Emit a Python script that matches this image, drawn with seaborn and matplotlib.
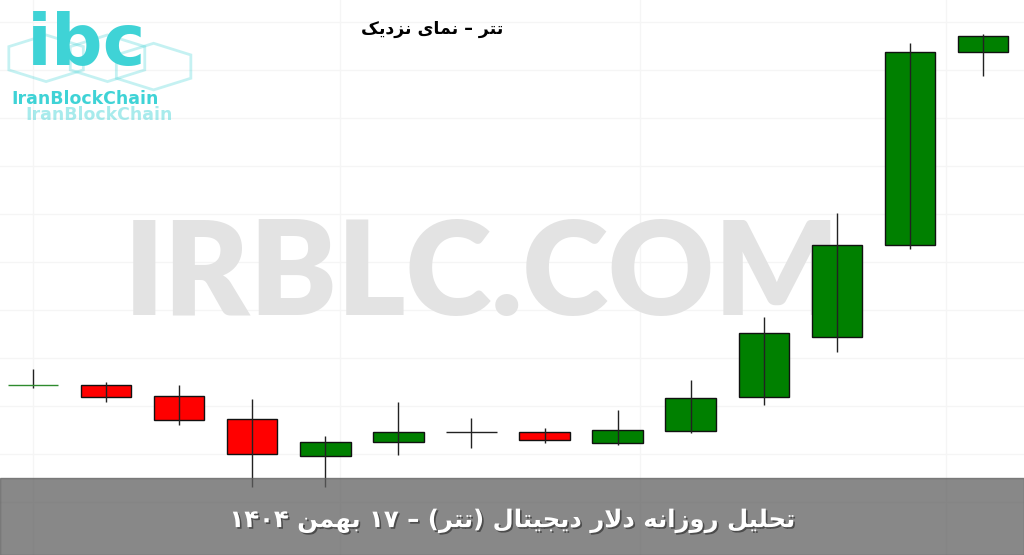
import numpy as np
import matplotlib
matplotlib.use('Agg')
from matplotlib import pyplot as plt
from matplotlib.patches import RegularPolygon, Rectangle
import matplotlib.patheffects as pe
import seaborn as sns
import pandas as pd

# daily candles (toman)
days = list(range(14))
opens  = [153450, 153450, 153120, 152430, 151320, 151740, 152040, 152040, 151710, 152070, 153090, 154890, 157650, 163440]
highs  = [153930, 153540, 153450, 153030, 151920, 152940, 152460, 152160, 152700, 153600, 155490, 158610, 163710, 163980]
lows   = [153360, 152940, 152250, 150390, 150390, 151350, 151560, 151710, 151650, 152010, 152850, 154440, 157530, 162720]
closes = [153450, 153090, 152400, 151380, 151740, 152040, 152040, 151800, 152100, 153060, 155010, 157650, 163440, 163920]

title_txt = 'تتر – نمای نزدیک'
banner_txt = 'تحلیل روزانه دلار دیجیتال (تتر) – ۱۷ بهمن ۱۴۰۴'

df = pd.DataFrame({'day': days, 'open': opens, 'high': highs, 'low': lows, 'close': closes})

##########################################################################################################################
# minimal persian shaping (matplotlib has no bidi / joining)
##########################################################################################################################
FORMS = {
    'ا': ('\uFE8D', '\uFE8E'),
    'ب': ('\uFE8F', '\uFE90', '\uFE91', '\uFE92'),
    'ت': ('\uFE95', '\uFE96', '\uFE97', '\uFE98'),
    'ج': ('\uFE9D', '\uFE9E', '\uFE9F', '\uFEA0'),
    'ح': ('\uFEA1', '\uFEA2', '\uFEA3', '\uFEA4'),
    'د': ('\uFEA9', '\uFEAA'),
    'ر': ('\uFEAD', '\uFEAE'),
    'ز': ('\uFEAF', '\uFEB0'),
    'ک': ('\uFB8E', '\uFB8F', '\uFB90', '\uFB91'),
    'ل': ('\uFEDD', '\uFEDE', '\uFEDF', '\uFEE0'),
    'م': ('\uFEE1', '\uFEE2', '\uFEE3', '\uFEE4'),
    'ن': ('\uFEE5', '\uFEE6', '\uFEE7', '\uFEE8'),
    'ه': ('\uFEE9', '\uFEEA', '\uFEEB', '\uFEEC'),
    'و': ('\uFEED', '\uFEEE'),
    'ی': ('\uFBFC', '\uFBFD', '\uFBFE', '\uFBFF'),
}

def shape_word(word):
    out = []
    i = 0
    n = len(word)
    while i < n:
        ch = word[i]
        if ch not in FORMS:
            out.append(ch)
            i += 1
            continue
        prev = word[i-1] if i > 0 else None
        joins_prev = prev in FORMS and len(FORMS[prev]) == 4
        if ch == 'ل' and i + 1 < n and word[i+1] == 'ا':
            out.append('\uFEFC' if joins_prev else '\uFEFB')
            i += 2
            continue
        nxt = word[i+1] if i + 1 < n else None
        joins_next = len(FORMS[ch]) == 4 and nxt in FORMS
        f = FORMS[ch]
        if joins_prev and joins_next:
            out.append(f[3])
        elif joins_prev:
            out.append(f[1])
        elif joins_next:
            out.append(f[2])
        else:
            out.append(f[0])
        i += 1
    return out

def rtl(text):
    words = []
    for w in text.split(' '):
        if all(c in '۰۱۲۳۴۵۶۷۸۹0123456789' for c in w):
            words.append(w)
        else:
            chars = shape_word(w)[::-1]
            swap = {'(': ')', ')': '('}
            words.append(''.join(swap.get(c, c) for c in chars))
    return ' '.join(words[::-1])

##########################################################################################################################
sns.set_theme(style='white')
plt.rcParams['font.family'] = ['DejaVu Sans']

fig = plt.figure(figsize=(10.24, 5.55), dpi=100)
ax = fig.add_axes([0, 0, 1, 1])
ax.set_xlim(-0.4516, 13.561)
ax.set_ylim(148350, 165000)
for s in ax.spines.values():
    s.set_visible(False)
ax.set_xticks([0, 4.2, 8.3, 12.5])
ax.set_yticks(np.arange(149940, 165000, 1440))
ax.grid(True, color='#f5f5f5', lw=1)
ax.tick_params(labelbottom=False, labelleft=False, length=0)

# watermark
ax.text(0.471, 0.50, 'IRBLC.COM', transform=ax.transAxes, ha='center', va='center',
        fontsize=94, fontweight='heavy', family='Lato', color='#e3e3e3', zorder=1)

# candles
up = df['close'] > df['open']
down = df['close'] < df['open']
width = 0.69
ax.bar(df['day'][up], (df['close'] - df['open'])[up], bottom=df['open'][up], width=width,
       color='#008000', edgecolor='#111111', lw=1, zorder=3)
ax.bar(df['day'][down], (df['close'] - df['open'])[down], bottom=df['open'][down], width=width,
       color='#ff0000', edgecolor='#111111', lw=1, zorder=3)
ax.vlines(df['day'], df['low'], df['high'], color='#222222', lw=1, zorder=4)
doji = df[df['close'] == df['open']]
for k, r in doji.iterrows():
    c = '#2e8b2e' if k == 0 else '#222222'
    ax.hlines(r['open'], r['day'] - width / 2, r['day'] + width / 2, color=c, lw=1, zorder=4)

# chart title
fig.text(0.422, 0.948, rtl(title_txt), ha='center', va='center', fontsize=12.5,
         fontweight='bold', color='black')

# logo (rough)
cyan = '#3fd3d6'
for (cx, cy, r, a) in [(0.045, 0.895, 0.042, 0.3), (0.105, 0.895, 0.042, 0.3), (0.150, 0.88, 0.042, 0.3)]:
    fig.patches.append(RegularPolygon((cx, cy), 6, radius=r, orientation=0, transform=fig.transFigure,
                                      fill=False, ec=cyan, lw=2, alpha=a))
fig.text(0.085, 0.918, 'ibc', ha='center', va='center', fontsize=52, fontweight='bold',
         color=cyan, family='DejaVu Sans')
fig.text(0.083, 0.822, 'IranBlockChain', ha='center', va='center', fontsize=12.5, fontweight='bold',
         color=cyan)
fig.text(0.097, 0.792, 'IranBlockChain', ha='center', va='center', fontsize=12.5, fontweight='bold',
         color=cyan, alpha=0.45)

# bottom banner
fig.patches.append(Rectangle((0, 0), 1, 0.139, transform=fig.transFigure, color='#606060',
                             alpha=0.75, zorder=10))
fig.text(0.50, 0.062, rtl(banner_txt), ha='center', va='center', fontsize=17.5,
         fontweight='bold', color='white', zorder=11,
         path_effects=[pe.withSimplePatchShadow(offset=(1.2, -1.2), shadow_rgbFace='#333333', alpha=0.7)])

fig.savefig('out.png', dpi=100)
